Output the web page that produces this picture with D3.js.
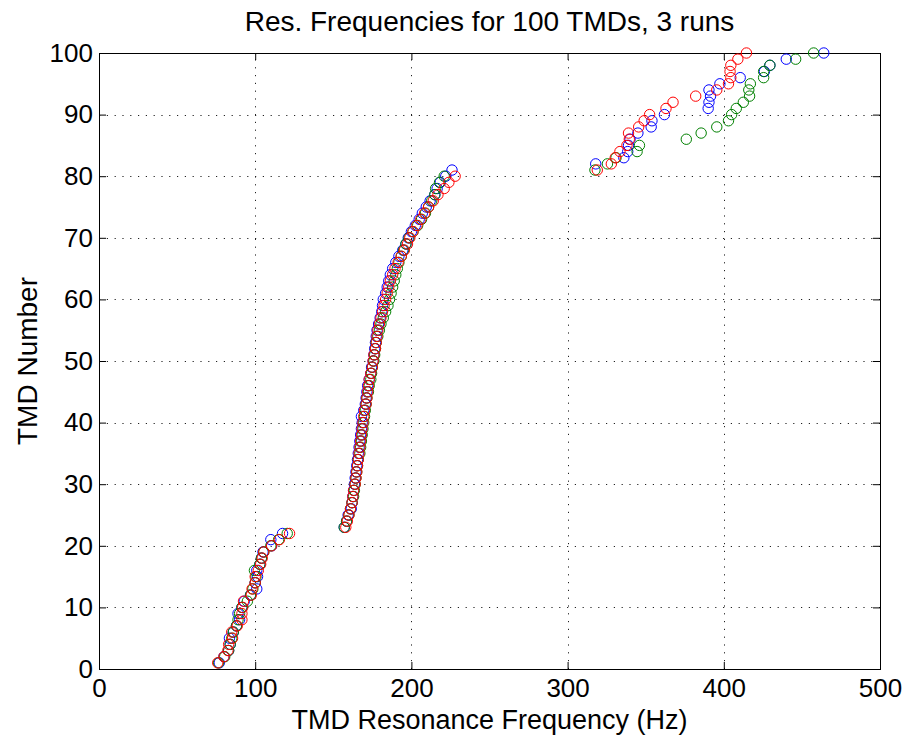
<!DOCTYPE html>
<html><head><meta charset="utf-8">
<script src="https://cdn.jsdelivr.net/npm/d3@7"></script>
<style>body{margin:0;background:#fff} svg text{font-family:"Liberation Sans",Arial,Helvetica,sans-serif;fill:#000}</style>
</head><body><svg id="c" width="909" height="738"></svg>
<script>
const title = "Res. Frequencies for 100 TMDs, 3 runs";
const xLabel = "TMD Resonance Frequency (Hz)";
const yLabel = "TMD Number";
const xTicks = [0, 100, 200, 300, 400, 500];
const yTicks = [0, 10, 20, 30, 40, 50, 60, 70, 80, 90, 100];

// Resonance frequency (Hz) of TMD number 1..100, sorted, for each run
const run1Blue = [
  77, 80, 83, 84, 83.5, 86, 88, 90, 89, 91.5, 93, 97, 101, 100, 101.5, 101, 103, 104, 105, 110.5, 110, 117.5,
  157, 158.5, 159.5, 161.5, 162, 162.5, 163, 163.5, 164, 164.5, 165, 165.5, 166, 166.5, 167, 167.5, 168, 168.5, 168, 169.5,
  170.5, 171, 171.5, 172, 173, 174, 174.5, 175.5, 176, 176.5, 177, 177.5, 178, 179, 180, 181, 181.5, 182,
  183.5, 184.5, 185.5, 186.5, 188, 190, 192, 194.5, 196.5, 198, 200, 202.5, 205, 207, 209.5, 212, 215, 216.5, 218.5, 222, 226,
  318, 336, 338.5, 339, 340, 345, 353.5, 354, 362, 390, 390.5, 391.5, 390.5, 397.5, 410.5, 426, 429.5, 440, 464
];
const run2Green = [
  76.5, 80.5, 83, 84, 85, 86, 88, 89, 90, 91.5, 95, 97, 98.5, 100, 100.5, 99.5, 103, 104, 105.5, 110, 115, 120.5,
  157, 158.5, 160, 161, 162, 163, 163.5, 164, 164.5, 165, 165.5, 166, 167, 167.5, 168, 168.5, 169, 169.5, 170, 170.5,
  171, 171.5, 172.5, 173, 174, 174.5, 175, 176, 176.5, 177, 177.5, 178.5, 179.5, 180.5, 182, 183.5, 185, 186,
  187, 188, 189, 190, 191, 192, 193.5, 195, 196.5, 198.5, 201, 204, 206.5, 209, 211, 213, 215, 215.5, 218, 221,
  317.5, 325.5, 331, 344.5, 346, 376, 385.5, 395.5, 403, 405, 408, 412.5, 416.5, 416, 417, 425.5, 425.5, 429.5, 446, 457.5
];
const run3Red = [
  76, 80, 82.5, 83, 85.5, 85, 88.5, 91.5, 91.5, 92, 92.5, 97.5, 98, 100, 100, 102, 103.5, 104.5, 105.5, 110.5, 115.5, 122,
  158, 159, 160, 161, 162, 162.5, 163, 164, 164.5, 165, 165.5, 166, 166.5, 167, 167.5, 168, 168.5, 169, 169.5, 170,
  171, 171.5, 172, 172.5, 173, 174, 175, 175.5, 176, 177, 177.5, 178, 178.5, 179.5, 180.5, 181.5, 182.5, 183.5,
  184.5, 185.5, 186.5, 188, 189.5, 191.5, 193.5, 195.5, 197.5, 199, 201, 203.5, 206, 208.5, 211, 214, 217, 221, 224, 228,
  319, 328, 330.5, 333.5, 338, 339.5, 339, 345.5, 349, 352.5, 363, 367.5, 382, 395.5, 403, 404.5, 404, 404.5, 409, 414.5
];
const runs = [
  {name: "run 1", color: "#0000ff", freqs: run1Blue},
  {name: "run 2", color: "#008000", freqs: run2Green},
  {name: "run 3", color: "#ff0000", freqs: run3Red}
];

const svg = d3.select("#c");
const L = 99, R = 880, T = 53, B = 669;
const x = d3.scaleLinear().domain([0, 500]).range([L, R]);
const y = d3.scaleLinear().domain([0, 100]).range([B, T]);

// grid
const grid = svg.append("g").attr("stroke", "#222").attr("stroke-width", 1).attr("stroke-dasharray", "1.2,6.6");
grid.selectAll(".gx").data(xTicks.slice(1, -1)).join("line")
  .attr("x1", d => Math.round(x(d)) + 0.5).attr("x2", d => Math.round(x(d)) + 0.5)
  .attr("y1", B).attr("y2", T);
grid.selectAll(".gy").data(yTicks.slice(1, -1)).join("line")
  .attr("y1", d => Math.round(y(d)) + 0.5).attr("y2", d => Math.round(y(d)) + 0.5)
  .attr("x1", L).attr("x2", R);

// axes (ticks inward)
const fs = 26;
const xb = svg.append("g").attr("transform", `translate(0,${B})`)
  .call(d3.axisBottom(x).tickValues(xTicks).tickSizeInner(-7).tickSizeOuter(0).tickPadding(10));
const xt = svg.append("g").attr("transform", `translate(0,${T})`)
  .call(d3.axisTop(x).tickValues(xTicks).tickSizeInner(-7).tickSizeOuter(0).tickFormat(""));
const yl = svg.append("g").attr("transform", `translate(${L},0)`)
  .call(d3.axisLeft(y).tickValues(yTicks).tickSizeInner(-7).tickSizeOuter(0).tickPadding(6));
const yr = svg.append("g").attr("transform", `translate(${R},0)`)
  .call(d3.axisRight(y).tickValues(yTicks).tickSizeInner(-7).tickSizeOuter(0).tickFormat(""));
[xb, xt, yl, yr].forEach(g => {
  g.select(".domain").remove();
  g.selectAll("line").attr("stroke", "#000");
  g.selectAll("text").attr("font-size", fs).attr("font-family", "Liberation Sans, Arial, sans-serif").attr("fill", "#000");
});
svg.append("rect").attr("x", L + 0.5).attr("y", T + 0.5).attr("width", R - L).attr("height", B - T)
  .attr("fill", "none").attr("stroke", "#000").attr("stroke-width", 1);

// points
runs.forEach(r => {
  svg.append("g").selectAll("circle").data(r.freqs).join("circle")
    .attr("cx", d => x(d)).attr("cy", (d, i) => y(i + 1)).attr("r", 5.2)
    .attr("fill", "none").attr("stroke", r.color).attr("stroke-width", 1);
});

// labels
svg.append("text").attr("x", (L + R) / 2).attr("y", 31).attr("text-anchor", "middle").attr("font-size", 28).text(title);
svg.append("text").attr("x", (L + R) / 2).attr("y", 729).attr("text-anchor", "middle").attr("font-size", 27).text(xLabel);
svg.append("text").attr("transform", `translate(37,${(T + B) / 2}) rotate(-90)`).attr("text-anchor", "middle").attr("font-size", 28).text(yLabel);
</script></body></html>
